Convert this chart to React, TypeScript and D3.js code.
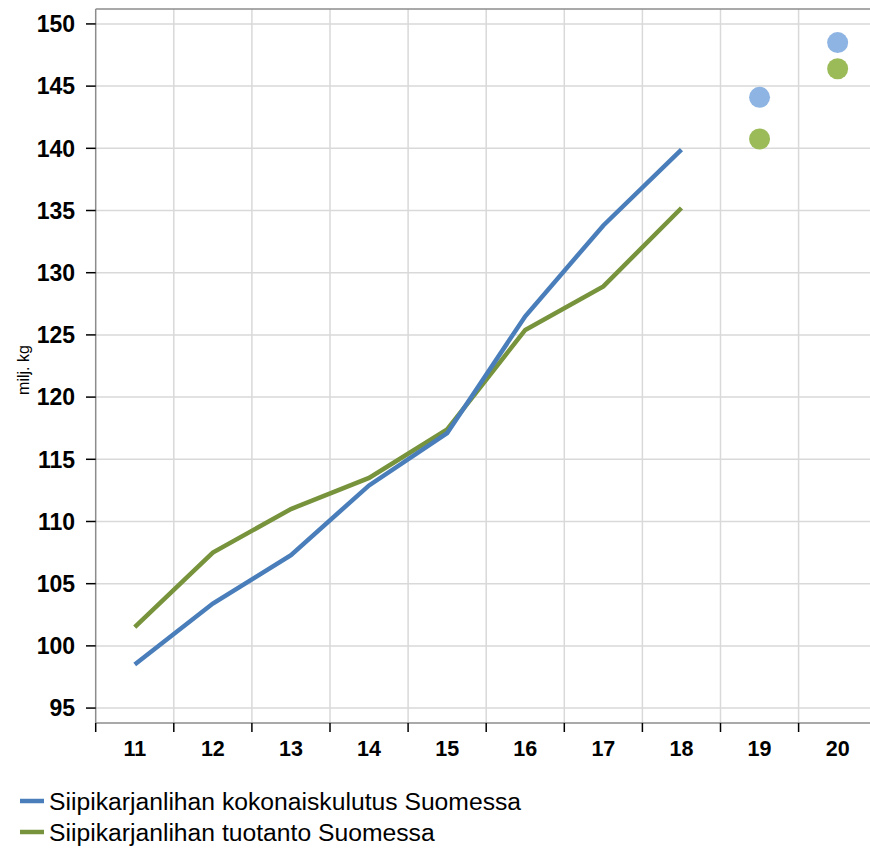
import React from "react";
import * as d3 from "d3";

const categories = ["11", "12", "13", "14", "15", "16", "17", "18", "19", "20"];
const consumption = [98.5, 103.4, 107.3, 112.9, 117.1, 126.5, 133.8, 139.9];
const production = [101.5, 107.5, 111.0, 113.5, 117.4, 125.4, 128.9, 135.2];
const forecastCats = ["19", "20"];
const consumptionForecast = [144.1, 148.5];
const productionForecast = [140.75, 146.4];
const yTicks = [95, 100, 105, 110, 115, 120, 125, 130, 135, 140, 145, 150];
const seriesNames = ["Siipikarjanlihan kokonaiskulutus Suomessa", "Siipikarjanlihan tuotanto Suomessa"];

const W = 870, H = 848;
const left = 95.7, right = 876.7, top = 9, bottom = 723;
const BLUE = "#4a7ebb", GREEN = "#77933c", LBLUE = "#8eb4e3", LGREEN = "#9bbb59";
const FONT = "Liberation Sans, Arial, sans-serif";

export default function App() {
  const x = d3.scaleBand<string>().domain(categories).range([left, right]);
  const y = d3.scaleLinear().domain([93.8, 151.2]).range([bottom, top]);
  const cx = (c: string) => (x(c) as number) + x.bandwidth() / 2;
  const line = d3.line<number>().x((_, i) => cx(categories[i])).y((d) => y(d));
  const gridX = categories.slice(1).map((c) => x(c) as number);

  return (
    <svg width={W} height={H} style={{ position: "absolute", left: 0, top: 0, background: "#fff" }} fontFamily={FONT}>
      {yTicks.map((t) => (
        <line key={"h" + t} x1={left} x2={right} y1={y(t)} y2={y(t)} stroke="#d9d9d9" strokeWidth={1.5} />
      ))}
      {gridX.map((gx, i) => (
        <line key={"v" + i} x1={gx} x2={gx} y1={top} y2={bottom} stroke="#d9d9d9" strokeWidth={1.5} />
      ))}
      <line x1={left} x2={right} y1={top} y2={top} stroke="#8c8c8c" strokeWidth={1.5} />
      <line x1={left} x2={left} y1={top} y2={bottom} stroke="#8c8c8c" strokeWidth={1.5} />
      <line x1={left} x2={right} y1={bottom} y2={bottom} stroke="#8c8c8c" strokeWidth={1.5} />
      {yTicks.map((t) => (
        <g key={"yt" + t}>
          <line x1={86} x2={left} y1={y(t)} y2={y(t)} stroke="#000" strokeWidth={1.5} />
          <text x={75} y={y(t)} dy="0.36em" textAnchor="end" fontSize={23} fontWeight="bold">{t}</text>
        </g>
      ))}
      {[left, ...gridX].map((gx, i) => (
        <line key={"xt" + i} x1={gx} x2={gx} y1={bottom} y2={bottom + 9} stroke="#000" strokeWidth={1.5} />
      ))}
      {categories.map((c) => (
        <text key={"xl" + c} x={cx(c)} y={756} textAnchor="middle" fontSize={21.5} fontWeight="bold">{c}</text>
      ))}
      <text transform={`translate(29,370) rotate(-90)`} textAnchor="middle" fontSize={16}>milj. kg</text>
      <path d={line(production) || ""} fill="none" stroke={GREEN} strokeWidth={4.5} />
      <path d={line(consumption) || ""} fill="none" stroke={BLUE} strokeWidth={4.5} />
      {forecastCats.map((c, i) => (
        <g key={"f" + c}>
          <circle cx={cx(c)} cy={y(consumptionForecast[i])} r={10.5} fill={LBLUE} />
          <circle cx={cx(c)} cy={y(productionForecast[i])} r={10.5} fill={LGREEN} />
        </g>
      ))}
      {seriesNames.map((n, i) => (
        <g key={"lg" + i}>
          <line x1={20} x2={44} y1={801 + i * 31} y2={801 + i * 31} stroke={i === 0 ? BLUE : GREEN} strokeWidth={4.5} />
          <text x={49} y={801 + i * 31} dy="0.36em" fontSize={24.7}>{n}</text>
        </g>
      ))}
    </svg>
  );
}
